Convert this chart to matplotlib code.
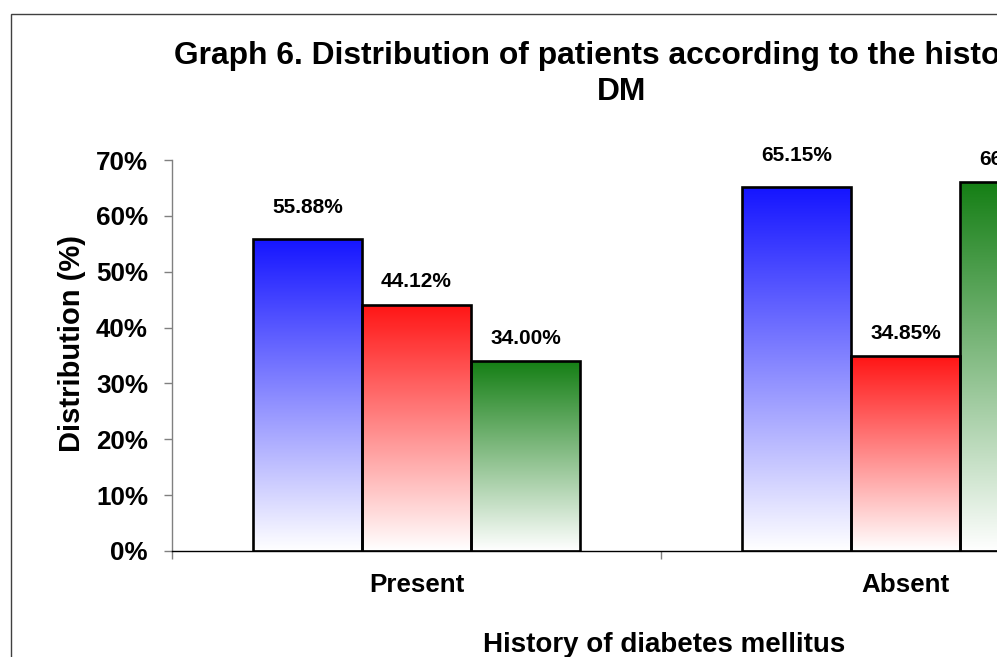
import matplotlib
matplotlib.use("Agg")
import matplotlib.pyplot as plt
import numpy as np
from matplotlib.colors import LinearSegmentedColormap
from matplotlib.patches import Rectangle
from matplotlib.ticker import FuncFormatter, FixedLocator

# chart data
categories = ["Present", "Absent"]
series_blue = [55.88, 65.15]
series_red = [44.12, 34.85]
series_green = [34.00, 66.00]

W, H = 997, 657
plt.rcParams["font.family"] = ["Liberation Sans", "DejaVu Sans"]
plt.rcParams["font.weight"] = "bold"

fig = plt.figure(figsize=(W / 100, H / 100), dpi=100)
fig.patch.set_facecolor("white")


def px(x, y):
    """pixel position (from top-left) -> figure fraction"""
    return x / W, 1 - y / H


# plot area runs past the right edge of the figure
left, top, right, bottom = 172, 160, 1150, 551
ax = fig.add_axes([left / W, 1 - bottom / H, (right - left) / W, (bottom - top) / H])
ax.set_facecolor("none")

bar_w = 0.223
x = np.arange(len(categories))
series = [
    (series_blue, -bar_w, "#1515ff", 22.7),
    (series_red, 0.0, "#ff1515", 16.6),
    (series_green, bar_w, "#157f15", 16.6),
]

grad = np.linspace(0, 1, 256).reshape(-1, 1)
for vals, off, color, lab_off in series:
    fracs = [v / 100 for v in vals]
    bars = ax.bar(x + off, fracs, width=bar_w, facecolor="none",
                  edgecolor="black", linewidth=1.9, zorder=3)
    cmap = LinearSegmentedColormap.from_list("g", ["white", color])
    for b, v in zip(bars, vals):
        x0 = b.get_x()
        im = ax.imshow(grad, extent=[x0, x0 + b.get_width(), 0, b.get_height()],
                       origin="lower", aspect="auto", cmap=cmap,
                       interpolation="bicubic", zorder=2)
        im.set_clip_path(b)
        ax.annotate(f"{v:.2f}%", (b.get_x() + b.get_width() / 2, b.get_height()),
                    xytext=(0, lab_off), textcoords="offset points",
                    ha="center", va="center", fontsize=15, fontweight="bold",
                    annotation_clip=False)

ax.set_xlim(-0.5, 1.5)
ax.set_ylim(0, 0.7)

# y axis
ax.set_yticks(np.arange(0, 0.71, 0.1))
ax.yaxis.set_major_formatter(FuncFormatter(lambda v, p: f"{v * 100:.0f}%"))
ax.tick_params(axis="y", direction="out", length=5.8, width=1, color="#808080",
               pad=11.5, labelsize=18.7)
for lab in ax.get_yticklabels():
    lab.set_fontweight("bold")

# x axis: tick marks between categories, labels under category centres
ax.xaxis.set_major_locator(FixedLocator([-0.5, 0.5, 1.5]))
ax.xaxis.set_major_formatter(FuncFormatter(lambda v, p: ""))
ax.xaxis.set_minor_locator(FixedLocator(x))
ax.set_xticklabels(categories, minor=True)
ax.tick_params(axis="x", which="major", direction="out", length=5.8, width=1,
               color="#808080")
ax.tick_params(axis="x", which="minor", length=0, pad=15.8, labelsize=18.7)
for lab in ax.get_xticklabels(minor=True):
    lab.set_fontweight("bold")

ax.spines["top"].set_visible(False)
ax.spines["right"].set_visible(False)
ax.spines["left"].set_color("#808080")
ax.spines["left"].set_linewidth(1)
ax.spines["bottom"].set_color("black")
ax.spines["bottom"].set_linewidth(1)

# chart frame
fx, fy = px(11, 14)
fig.add_artist(Rectangle((fx, -0.2), 2, fy + 0.2, transform=fig.transFigure,
                         facecolor="none", edgecolor="#404040", linewidth=1))

# titles
tx, ty = px(621.5, 41)
fig.text(tx, ty, "Graph 6. Distribution of patients according to the history of\nDM",
         ha="center", va="top", fontsize=22.9, fontweight="bold", linespacing=1.28)
xx, xy = px(664, 645)
fig.text(xx, xy, "History of diabetes mellitus", ha="center", va="center",
         fontsize=20, fontweight="bold")
yx, yy = px(72, 343.5)
fig.text(yx, yy, "Distribution (%)", ha="center", va="center", rotation=90,
         fontsize=21, fontweight="bold")

fig.savefig("out.png", dpi=100, facecolor="white")
